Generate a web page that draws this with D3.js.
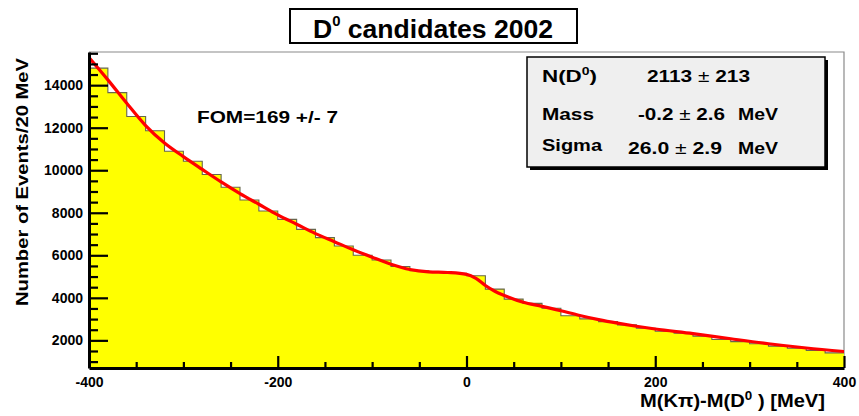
<!DOCTYPE html>
<html>
<head>
<meta charset="utf-8">
<script src="https://cdn.jsdelivr.net/npm/d3@7"></script>
<style>
  body { margin: 0; background: #fff; }
  text { font-family: "Liberation Sans", Arial, Helvetica, sans-serif; font-weight: bold; fill: #000; }
</style>
</head>
<body>
<svg id="chart" width="859" height="416"></svg>
<script>
// Histogram contents: events per 20 MeV bin, from -400 to 400 MeV
const binStarts = d3.range(-400, 400, 20);
const binCounts = [14800, 13650, 12530, 11860, 10890, 10420, 9800, 9200, 8600, 8080,
                   7690, 7220, 6830, 6440, 6000, 5780, 5470, 5270, 5190, 5150,
                   5040, 4410, 3940, 3740, 3510, 3160, 3010, 2880, 2730, 2570,
                   2430, 2340, 2200, 2040, 1940, 1840, 1730, 1630, 1520, 1410];

// Fit curve (background + D0 peak) sampled along the mass axis
const fitX = [-400, -380, -360, -340, -320, -300, -280, -260, -240, -220, -200, -180, -160,
              -140, -120, -100, -80, -60, -40, -20, 0, 10, 20, 30, 40, 60, 80, 100, 120,
              140, 160, 180, 200, 240, 280, 320, 360, 400];
const fitY = [15300, 14250, 13150, 12100, 11280, 10640, 10040, 9450, 8900, 8400, 7900, 7460, 7020,
              6640, 6260, 5910, 5580, 5330, 5220, 5190, 5100, 4913, 4580, 4310, 4110, 3790, 3600, 3390, 3170,
              2975, 2810, 2665, 2535, 2320, 2075, 1840, 1640, 1475];

const xTickValues = [-400, -200, 0, 200, 400];
const yTickValues = [2000, 4000, 6000, 8000, 10000, 12000, 14000];

const statLabels = ["N(D0)", "Mass", "Sigma"];
const statValues = ["2113", "-0.2", "26.0"];
const statErrors = ["213", "2.6", "2.9"];
const statUnits  = ["", "MeV", "MeV"];

const svg = d3.select("#chart");
const frame = { left: 89, right: 844, top: 52, bottom: 368 };

const x = d3.scaleLinear().domain([-400, 400]).range([frame.left, frame.right]);
const y = d3.scaleLinear().domain([700, 15560]).range([frame.bottom, frame.top]);

svg.append("defs").append("clipPath").attr("id", "plotClip")
  .append("rect")
  .attr("x", frame.left).attr("y", frame.top)
  .attr("width", frame.right - frame.left).attr("height", frame.bottom - frame.top);

// Thin frame on top and right
svg.append("path")
  .attr("d", `M${frame.left},${frame.top}H${frame.right}V${frame.bottom}`)
  .attr("fill", "none").attr("stroke", "#8a8a8a").attr("stroke-width", 1.2);

const plot = svg.append("g").attr("clip-path", "url(#plotClip)");

// Histogram as stepped area
const steps = binStarts.map((s, i) => ({ x: s, v: binCounts[i] }));
steps.push({ x: 400, v: binCounts[binCounts.length - 1] });

plot.append("path")
  .datum(steps)
  .attr("d", d3.area().curve(d3.curveStepAfter)
    .x(d => x(d.x)).y0(y(y.domain()[0])).y1(d => y(d.v)))
  .attr("fill", "#ffff00");

plot.append("path")
  .datum(steps)
  .attr("d", d3.line().curve(d3.curveStepAfter).x(d => x(d.x)).y(d => y(d.v)))
  .attr("fill", "none").attr("stroke", "#66664e").attr("stroke-width", 1.1);

// Fit function
plot.append("path")
  .datum(fitX.map((v, i) => [v, fitY[i]]))
  .attr("d", d3.line().curve(d3.curveMonotoneX).x(d => x(d[0])).y(d => y(d[1])))
  .attr("fill", "none").attr("stroke", "#ff0000").attr("stroke-width", 3.2)
  .attr("stroke-linecap", "round");

// Plain hyphen for negative tick labels
const tickFmt = d => String(d);

// Y axis: major ticks with labels, minor ticks every 500
const yMinor = d3.range(1000, 15600, 500).filter(v => v % 2000 !== 0);
const yMinorAxis = svg.append("g").attr("transform", `translate(${frame.left},0)`)
  .call(d3.axisLeft(y).tickValues(yMinor).tickSizeInner(-9).tickSizeOuter(0).tickFormat(""));
yMinorAxis.select(".domain").remove();

const yAxis = svg.append("g").attr("transform", `translate(${frame.left},0)`)
  .call(d3.axisLeft(y).tickValues(yTickValues).tickSizeInner(-19).tickSizeOuter(0)
    .tickPadding(6).tickFormat(tickFmt));

// X axis: major ticks with labels, minor ticks every 50
const xMinor = d3.range(-350, 400, 50).filter(v => v % 200 !== 0);
const xMinorAxis = svg.append("g").attr("transform", `translate(0,${frame.bottom})`)
  .call(d3.axisBottom(x).tickValues(xMinor).tickSizeInner(-6).tickSizeOuter(0).tickFormat(""));
xMinorAxis.select(".domain").remove();

const xAxis = svg.append("g").attr("transform", `translate(0,${frame.bottom})`)
  .call(d3.axisBottom(x).tickValues(xTickValues).tickSizeInner(-12).tickSizeOuter(0)
    .tickPadding(9).tickFormat(tickFmt));

svg.selectAll(".tick line").attr("stroke", "#000").attr("stroke-width", 2.2);
[xAxis, yAxis].forEach(a => a.select(".domain").attr("stroke", "#000").attr("stroke-width", 3));
svg.selectAll(".tick text")
  .style("font-family", '"Liberation Sans", Arial, sans-serif')
  .style("font-weight", "bold").style("font-size", "14px").attr("fill", "#000");

// Axis titles
const xTitle = svg.append("text").attr("x", 640).attr("y", 407)
  .attr("textLength", 185).attr("lengthAdjust", "spacingAndGlyphs")
  .style("font-size", "18px");
xTitle.append("tspan").text("M(K\u03c0)-M(D");
xTitle.append("tspan").attr("dy", -7).style("font-size", "12px").text("0");
xTitle.append("tspan").attr("dy", 7).text(" ) [MeV]");

svg.append("text")
  .attr("transform", "translate(28,182) rotate(-90)")
  .attr("text-anchor", "middle")
  .attr("textLength", 248).attr("lengthAdjust", "spacingAndGlyphs")
  .style("font-size", "17px")
  .text("Number of Events/20 MeV");

// Title box
svg.append("rect").attr("x", 290).attr("y", 9).attr("width", 287).attr("height", 34)
  .attr("fill", "#fff").attr("stroke", "#000").attr("stroke-width", 2);
const title = svg.append("text").attr("x", 313).attr("y", 38)
  .attr("textLength", 240).attr("lengthAdjust", "spacingAndGlyphs")
  .style("font-size", "25px");
title.append("tspan").text("D");
title.append("tspan").attr("dy", -12).style("font-size", "14px").text("0");
title.append("tspan").attr("dy", 12).text(" candidates 2002");

// Figure of merit
svg.append("text").attr("x", 197).attr("y", 122.5)
  .attr("textLength", 141).attr("lengthAdjust", "spacingAndGlyphs")
  .style("font-size", "17px")
  .text("FOM=169 +/- 7");

// Fit results box with shadow
const box = { x: 527, y: 57, w: 298, h: 110 };
svg.append("rect").attr("x", box.x + 3).attr("y", box.y + 3).attr("width", box.w).attr("height", box.h)
  .attr("fill", "#000");
svg.append("rect").attr("x", box.x).attr("y", box.y).attr("width", box.w).attr("height", box.h)
  .attr("fill", "#efefef").attr("stroke", "#000").attr("stroke-width", 1.5);

const rowBase = [81.5, 119.5, 151];
const valueStart = [647, 638, 628];
const valueWidth = [103, 87, 94];
const labelWidth = [55, 52, 60];

statLabels.forEach((lab, i) => {
  const t = svg.append("text").attr("x", 542).attr("y", rowBase[i])
    .attr("textLength", labelWidth[i]).attr("lengthAdjust", "spacingAndGlyphs")
    .style("font-size", "16px");
  if (lab === "N(D0)") {
    t.append("tspan").text("N(D");
    t.append("tspan").attr("dy", -7).style("font-size", "10px").text("0");
    t.append("tspan").attr("dy", 7).text(")");
  } else {
    t.text(lab);
  }
  const v = svg.append("text").attr("x", valueStart[i]).attr("y", rowBase[i] + (i === 2 ? 3 : 0))
    .attr("textLength", valueWidth[i]).attr("lengthAdjust", "spacingAndGlyphs")
    .style("font-size", "16px");
  v.append("tspan").text(statValues[i] + " ");
  v.append("tspan").style("font-weight", "normal").text("\u00b1");
  v.append("tspan").text(" " + statErrors[i]);
  if (statUnits[i]) {
    svg.append("text").attr("x", 738).attr("y", rowBase[i] + (i === 2 ? 3 : 0))
      .attr("textLength", 40).attr("lengthAdjust", "spacingAndGlyphs")
      .style("font-size", "16px")
      .text(statUnits[i]);
  }
});
</script>
</body>
</html>
